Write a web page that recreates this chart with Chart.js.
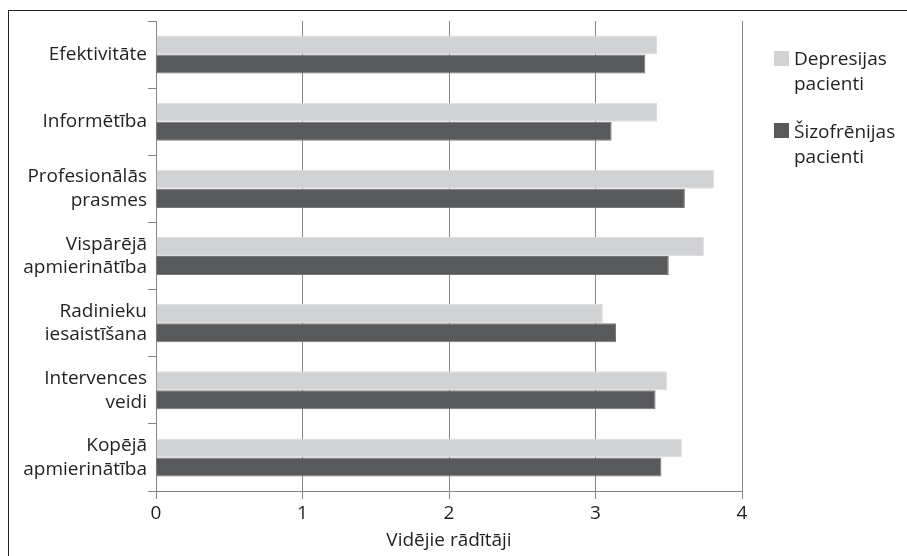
<!DOCTYPE html>
<html lang="lv">
<head>
<meta charset="utf-8">
<title>Vidējie rādītāji</title>
<script src="https://cdn.jsdelivr.net/npm/chart.js@4.4.1/dist/chart.umd.min.js"></script>
<style>
  html, body { margin: 0; padding: 0; background: #ffffff; }
  #wrap { position: relative; width: 907px; height: 556px; overflow: hidden; }
  #frame {
    position: absolute; left: 8px; top: 10px; width: 940px; height: 600px;
    border-left: 1.5px solid #231f20; border-top: 1.5px solid #231f20;
    pointer-events: none;
  }
  canvas { display: block; }
</style>
</head>
<body>
<div id="wrap">
  <canvas id="chart" width="907" height="556"></canvas>
  <div id="frame"></div>
</div>
<script>
// Categories (multi-line axis labels)
const categories = [
  ['Efektivitāte'],
  ['Informētība'],
  ['Profesionālās', 'prasmes'],
  ['Vispārējā', 'apmierinātība'],
  ['Radinieku', 'iesaistīšana'],
  ['Intervences', 'veidi'],
  ['Kopējā', 'apmierinātība']
];

// Mean scores per group
const depressionValues    = [3.42, 3.42, 3.81, 3.74, 3.05, 3.49, 3.59];
const schizophreniaValues = [3.34, 3.11, 3.61, 3.50, 3.14, 3.41, 3.45];

// Legend text, one entry per series
const seriesNames = [
  ['Depresijas', 'pacienti'],
  ['Šizofrēnijas', 'pacienti']
];

const xTicks = [0, 1, 2, 3, 4];
const xTitle = 'Vidējie rādītāji';

const FONT = "'Open Sans', 'Noto Sans', sans-serif";
const TEXT = '#231f20';
const GRID = '#858585';

Chart.defaults.font.family = FONT;
Chart.defaults.font.size = 19;
Chart.defaults.color = TEXT;

// Two-line legend drawn to the right of the plot area
const sideLegend = {
  id: 'sideLegend',
  afterDraw(chart) {
    const ctx = chart.ctx;
    const items = [
      { box: 51, base: [65, 90] },
      { box: 123, base: [138, 163] }
    ];
    ctx.save();
    ctx.font = `19px ${FONT}`;
    ctx.textAlign = 'left';
    ctx.textBaseline = 'alphabetic';
    chart.data.datasets.forEach((ds, i) => {
      const it = items[i];
      ctx.fillStyle = ds.backgroundColor;
      ctx.fillRect(774, it.box, 15, 15);
      ctx.fillStyle = TEXT;
      seriesNames[i].forEach((line, j) => {
        ctx.fillText(line, 794, it.base[j]);
      });
    });
    ctx.restore();
  }
};

new Chart(document.getElementById('chart'), {
  type: 'bar',
  data: {
    labels: categories,
    datasets: [
      {
        label: seriesNames[0].join(' '),
        data: depressionValues,
        backgroundColor: '#d1d2d4',
        borderColor: '#dedfe1',
        borderWidth: 1
      },
      {
        label: seriesNames[1].join(' '),
        data: schizophreniaValues,
        backgroundColor: '#58595b',
        borderColor: '#76777a',
        borderWidth: 1
      }
    ]
  },
  options: {
    indexAxis: 'y',
    responsive: false,
    animation: false,
    categoryPercentage: 0.567,
    barPercentage: 1.0,
    layout: { padding: { top: 21, right: 165, bottom: 0, left: 0 } },
    plugins: {
      legend: { display: false },
      tooltip: { enabled: false }
    },
    scales: {
      x: {
        type: 'linear',
        min: xTicks[0],
        max: xTicks[xTicks.length - 1],
        z: 1,
        afterBuildTicks(scale) {
          scale.ticks = xTicks.map(v => ({ value: v }));
        },
        afterFit(scale) {
          scale.height = 65;
          scale.paddingLeft = 0;
          scale.paddingRight = 0;
        },
        ticks: { padding: 3, color: TEXT, font: { size: 19 } },
        grid: {
          color: GRID,
          lineWidth: 1,
          drawOnChartArea: true,
          drawTicks: true,
          tickLength: 8
        },
        border: { display: true, color: GRID, width: 1 },
        title: {
          display: true,
          text: xTitle,
          color: TEXT,
          font: { size: 19 },
          padding: { top: 2, bottom: 4 }
        }
      },
      y: {
        type: 'category',
        offset: true,
        afterFit(scale) {
          scale.width = 156;
          scale.paddingTop = 0;
          scale.paddingBottom = 0;
        },
        ticks: {
          padding: 1,
          color: TEXT,
          font: { size: 19, lineHeight: 1.25 }
        },
        grid: {
          offset: true,
          color: GRID,
          drawOnChartArea: false,
          drawTicks: true,
          tickLength: 8
        },
        border: { display: true, color: GRID, width: 1 }
      }
    }
  },
  plugins: [sideLegend]
});
</script>
</body>
</html>
